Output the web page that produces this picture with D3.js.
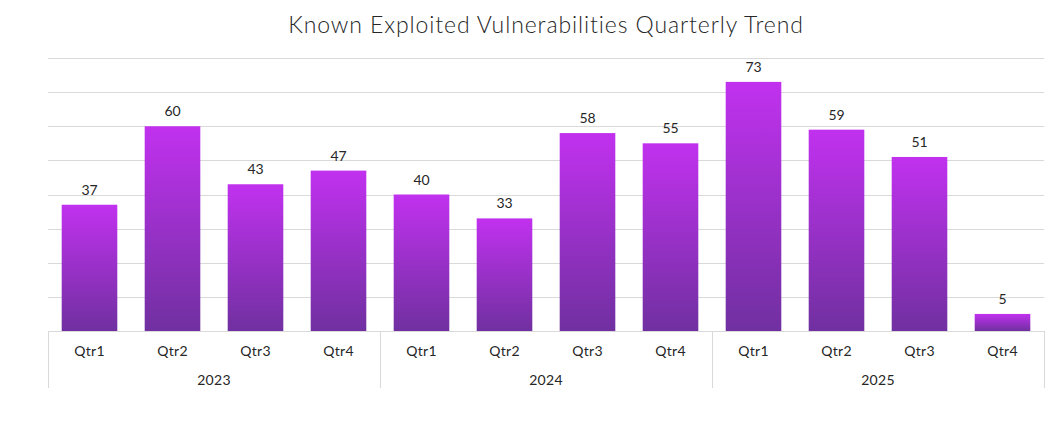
<!DOCTYPE html>
<html>
<head>
<meta charset="utf-8">
<script src="https://cdn.jsdelivr.net/npm/d3@7"></script>
<style>
  body { margin: 0; background: #fff; }
  text { font-family: "Lato", "Noto Sans", sans-serif; fill: #262626; }
</style>
</head>
<body>
<script>
const years = ['2023', '2024', '2025'];
const quarters = ['Qtr1', 'Qtr2', 'Qtr3', 'Qtr4'];
const values = [37, 60, 43, 47, 40, 33, 58, 55, 73, 59, 51, 5];
const yTicks = [0, 10, 20, 30, 40, 50, 60, 70, 80];

const width = 1056;
const height = 424;
const margin = { top: 58, right: 12, bottom: 93, left: 48 };

const data = values.map((v, i) => ({
  key: years[Math.floor(i / 4)] + '-' + quarters[i % 4],
  year: years[Math.floor(i / 4)],
  qtr: quarters[i % 4],
  value: v
}));

const svg = d3.select('body')
  .append('svg')
  .attr('width', width)
  .attr('height', height);

const defs = svg.append('defs');
const grad = defs.append('linearGradient')
  .attr('id', 'barGrad')
  .attr('x1', 0).attr('y1', 0).attr('x2', 0).attr('y2', 1);
grad.append('stop').attr('offset', '0%').attr('stop-color', '#c131ef');
grad.append('stop').attr('offset', '100%').attr('stop-color', '#7030a0');

const x = d3.scaleBand()
  .domain(data.map(d => d.key))
  .range([margin.left, width - margin.right])
  .paddingInner(0.33)
  .paddingOuter(0.165);

const y = d3.scaleLinear()
  .domain([0, 80])
  .range([height - margin.bottom, margin.top]);

const baseY = y(0);

// Gridlines
svg.append('g')
  .selectAll('line')
  .data(yTicks.slice(1))
  .join('line')
  .attr('x1', margin.left)
  .attr('x2', width - margin.right)
  .attr('y1', d => Math.round(y(d)) + 0.5)
  .attr('y2', d => Math.round(y(d)) + 0.5)
  .attr('stroke', '#d9d9d9')
  .attr('stroke-width', 1);

// Title
svg.append('text')
  .attr('x', (margin.left + width - margin.right) / 2)
  .attr('y', 33)
  .attr('text-anchor', 'middle')
  .style('font-size', '23px')
  .style('font-weight', 300)
  .style('letter-spacing', '0.9px')
  .style('fill', '#262626')
  .text('Known Exploited Vulnerabilities Quarterly Trend');

// Bars
svg.selectAll('rect.bar')
  .data(data)
  .join('rect')
  .attr('class', 'bar')
  .attr('x', d => x(d.key))
  .attr('y', d => y(d.value))
  .attr('width', x.bandwidth())
  .attr('height', d => baseY - y(d.value))
  .attr('fill', 'url(#barGrad)');

// Value labels
svg.selectAll('text.val')
  .data(data)
  .join('text')
  .attr('class', 'val')
  .attr('x', d => x(d.key) + x.bandwidth() / 2)
  .attr('y', d => y(d.value) - 10)
  .attr('text-anchor', 'middle')
  .style('font-size', '14px')
  .text(d => d.value);

// Category axis (quarters nested under years)
const axis = svg.append('g');
const step = x.step();
const catX = i => margin.left + step * i;

axis.append('line')
  .attr('x1', margin.left).attr('x2', width - margin.right)
  .attr('y1', Math.round(baseY) + 0.5).attr('y2', Math.round(baseY) + 0.5)
  .attr('stroke', '#d9d9d9');

const seps = d3.range(0, years.length + 1).map(i => catX(i * 4));
axis.selectAll('line.sep')
  .data(seps)
  .join('line')
  .attr('class', 'sep')
  .attr('x1', d => Math.round(d) + 0.5)
  .attr('x2', d => Math.round(d) + 0.5)
  .attr('y1', baseY)
  .attr('y2', 388)
  .attr('stroke', '#d9d9d9');

axis.selectAll('text.qtr')
  .data(data)
  .join('text')
  .attr('class', 'qtr')
  .attr('x', d => x(d.key) + x.bandwidth() / 2)
  .attr('y', baseY + 25)
  .attr('text-anchor', 'middle')
  .style('font-size', '14px')
  .style('letter-spacing', '0.3px')
  .text(d => d.qtr);

axis.selectAll('text.year')
  .data(years)
  .join('text')
  .attr('class', 'year')
  .attr('x', (d, i) => catX(i * 4 + 2))
  .attr('y', baseY + 54)
  .attr('text-anchor', 'middle')
  .style('font-size', '14px')
  .style('letter-spacing', '0.3px')
  .text(d => d);
</script>
</body>
</html>
